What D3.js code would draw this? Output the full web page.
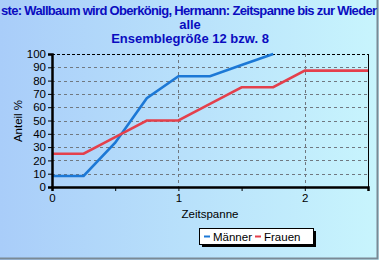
<!doctype html>
<html lang="de">
  <head>
    <meta charset="utf-8">
    <script src="https://cdnjs.cloudflare.com/ajax/libs/d3/7.8.5/d3.min.js"></script>
    <style>
      body { margin: 0; overflow: hidden; }
      svg { display: block; font-family: "Liberation Sans", Arial, sans-serif; }
    </style>
    <title>Zeitspanne</title>
  </head>
  <body>
    <div id="chart"></div>
    <script>
      // data
      var zeit = [0, 0.25, 0.5, 0.75, 1, 1.25, 1.5, 1.75, 2, 2.25, 2.5];
      var maenner = [8.3, 8.3, 33.3, 66.7, 83.3, 83.3, 91.7, 100, null, null, null];
      var frauen = [25, 25, 37.5, 50, 50, 62.5, 75, 75, 87.5, 87.5, 87.5];
      var yTicks = [0, 10, 20, 30, 40, 50, 60, 70, 80, 90, 100];
      var xTicks = [0, 1, 2];
      var titel = ["ste: Wallbaum wird Oberkönig, Hermann: Zeitspanne bis zur Wieder", "alle", "Ensemblegröße 12 bzw. 8"];
      var serien = [
        { name: "Männer", werte: maenner, farbe: "#1c78d6" },
        { name: "Frauen", werte: frauen, farbe: "#e4404c" }
      ];

      var W = 379, H = 260;
      var margin = { top: 54, right: 11, bottom: 73, left: 52 };
      var width = W - margin.left - margin.right;
      var height = H - margin.top - margin.bottom;

      var svg = d3.select("#chart").append("svg")
          .attr("width", W)
          .attr("height", H);

      var grad = svg.append("defs").append("linearGradient")
          .attr("id", "bg").attr("x1", "0").attr("x2", "1").attr("y1", "0").attr("y2", "0");
      grad.append("stop").attr("offset", "0").attr("stop-color", "#a9cdf9");
      grad.append("stop").attr("offset", "1").attr("stop-color", "#c8f5fd");

      svg.append("rect").attr("width", W).attr("height", H).attr("fill", "url(#bg)");
      // outer frame (bottom and right only visible)
      svg.append("path").attr("d", "M0," + (H - 1.5) + "H" + (W - 1.5) + "V0")
          .attr("fill", "none").attr("stroke", "#7a8a96").attr("stroke-width", 2);

      // title (first line is cut at both edges in the original, fitted to the width)
      svg.append("g").selectAll("text")
          .data(titel)
          .enter().append("text")
            .attr("x", function(d, i) { return i == 0 ? 1 : 190; })
            .attr("y", function(d, i) { return 15 + i * 14; })
            .attr("text-anchor", function(d, i) { return i == 0 ? "start" : "middle"; })
            .attr("textLength", function(d, i) { return i == 0 ? 376 : null; })
            .attr("font-size", "13px")
            .attr("font-weight", "bold")
            .attr("fill", "#0a0cc0")
            .text(function(d) { return d; });

      var g = svg.append("g")
          .attr("transform", "translate(" + margin.left + "," + margin.top + ")");

      var x = d3.scaleLinear().domain([0, 2.5]).range([0, width]);
      var y = d3.scaleLinear().domain([0, 100]).range([height, 0]);

      // horizontal grid
      g.append("g").selectAll("line")
          .data(yTicks.filter(function(d) { return d > 0 && d < 100; }))
          .enter().append("line")
            .attr("x1", 0).attr("x2", width)
            .attr("y1", function(d) { return Math.round(y(d)) + 0.5; })
            .attr("y2", function(d) { return Math.round(y(d)) + 0.5; })
            .attr("stroke", "#707880").attr("stroke-dasharray", "3,3");
      // vertical grid
      g.append("g").selectAll("line")
          .data(xTicks.filter(function(d) { return d > 0; }))
          .enter().append("line")
            .attr("x1", function(d) { return Math.round(x(d)) + 0.5; })
            .attr("x2", function(d) { return Math.round(x(d)) + 0.5; })
            .attr("y1", 0).attr("y2", height)
            .attr("stroke", "#707880").attr("stroke-dasharray", "3,3");

      // top border dashed, right border solid
      g.append("line").attr("x1", 0).attr("x2", width).attr("y1", 0.5).attr("y2", 0.5)
          .attr("stroke", "#000").attr("stroke-dasharray", "3,2");
      g.append("line").attr("x1", width + 0.5).attr("x2", width + 0.5).attr("y1", 0).attr("y2", height)
          .attr("stroke", "#000");

      // lines
      var line = d3.line()
          .defined(function(d) { return d[1] != null; })
          .x(function(d) { return x(d[0]); })
          .y(function(d) { return y(d[1]); });

      serien.forEach(function(s) {
          g.append("path")
              .datum(zeit.map(function(z, i) { return [z, s.werte[i]]; }))
              .attr("fill", "none")
              .attr("stroke", s.farbe)
              .attr("stroke-width", 2.6)
              .attr("d", line);
      });

      // y axis
      var yAxis = g.append("g")
          .call(d3.axisLeft(y).tickValues(yTicks).tickSize(4).tickPadding(2));
      yAxis.select(".domain").attr("stroke-width", 2.5);
      yAxis.selectAll("text").attr("font-size", "11.5px").attr("fill", "#000").attr("font-family", "Liberation Sans, Arial, sans-serif");

      // x axis, minor ticks every 0.5
      var xAxis = g.append("g")
          .attr("transform", "translate(0," + height + ")")
          .call(d3.axisBottom(x).tickValues([0, 0.5, 1, 1.5, 2, 2.5]).tickSize(4).tickPadding(3)
              .tickFormat(function(d) { return xTicks.indexOf(d) >= 0 ? d : ""; }));
      xAxis.select(".domain").attr("stroke-width", 2.5);
      xAxis.selectAll("text").attr("font-size", "11.5px").attr("fill", "#000").attr("font-family", "Liberation Sans, Arial, sans-serif");

      // axis titles
      svg.append("text")
          .attr("x", 210).attr("y", 218)
          .attr("text-anchor", "middle").attr("font-size", "11.5px")
          .text("Zeitspanne");
      svg.append("text")
          .attr("transform", "translate(22,121) rotate(-90)")
          .attr("text-anchor", "middle").attr("font-size", "11.5px")
          .text("Anteil %");

      // legend
      var lg = svg.append("g").attr("transform", "translate(199,228)");
      lg.append("rect").attr("x", 3).attr("y", 3).attr("width", 114).attr("height", 16).attr("fill", "#000");
      lg.append("rect").attr("x", 0.5).attr("y", 0.5).attr("width", 114).attr("height", 16)
          .attr("fill", "#fff").attr("stroke", "#000");
      var lx = [5, 56];
      serien.forEach(function(s, i) {
          lg.append("line").attr("x1", lx[i]).attr("x2", lx[i] + 6).attr("y1", 8.5).attr("y2", 8.5)
              .attr("stroke", s.farbe).attr("stroke-width", 2);
          lg.append("text").attr("x", lx[i] + 9).attr("y", 12.5).attr("font-size", "11.5px")
              .text(s.name);
      });
    </script>
  </body>
</html>
